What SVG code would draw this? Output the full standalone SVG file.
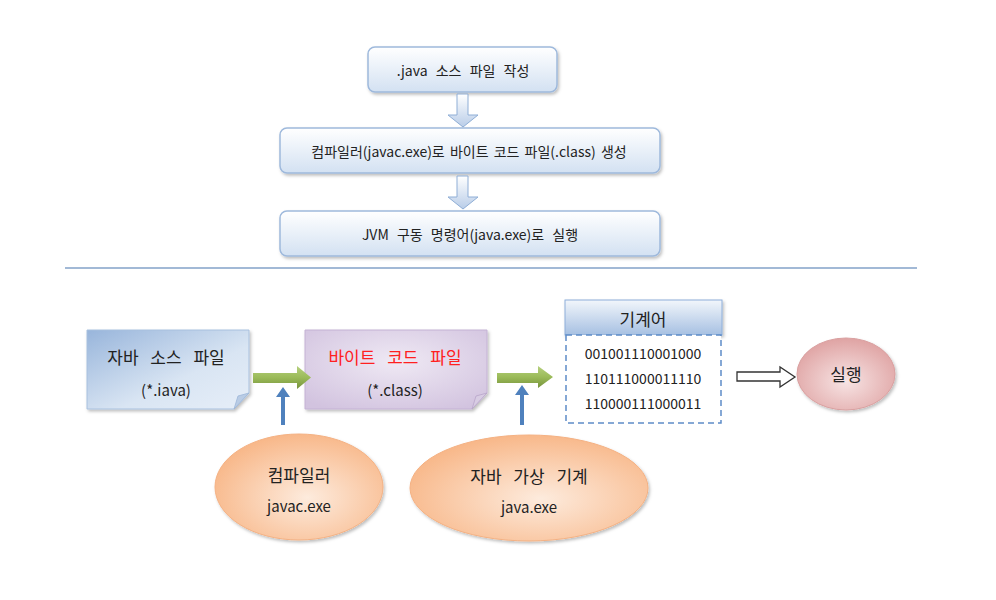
<svg xmlns="http://www.w3.org/2000/svg" width="996" height="600" viewBox="0 0 996 600">
<defs>
<linearGradient id="gTop" x1="0" y1="0" x2="0" y2="1">
<stop offset="0" stop-color="#FFFFFF"/><stop offset="1" stop-color="#D3E1F2"/>
</linearGradient>
<linearGradient id="gDown" x1="0" y1="0" x2="0" y2="1">
<stop offset="0" stop-color="#FFFFFF"/><stop offset="1" stop-color="#B9CDE8"/>
</linearGradient>
<linearGradient id="gBlue" x1="0" y1="0" x2="1" y2="1">
<stop offset="0" stop-color="#98B5DB"/><stop offset="0.6" stop-color="#D9E5F3"/><stop offset="1" stop-color="#E6EEF8"/>
</linearGradient>
<radialGradient id="gPurple" cx="0.5" cy="0.4" r="0.7">
<stop offset="0" stop-color="#EFE9F4"/><stop offset="1" stop-color="#D2C3DF"/>
</radialGradient>
<linearGradient id="gHead" x1="0" y1="0" x2="0" y2="1">
<stop offset="0" stop-color="#F2F6FB"/><stop offset="1" stop-color="#A6C0E2"/>
</linearGradient>
<linearGradient id="gGreen" x1="0" y1="0" x2="0" y2="1">
<stop offset="0" stop-color="#B6D07E"/><stop offset="0.5" stop-color="#9BBB59"/><stop offset="1" stop-color="#76923C"/>
</linearGradient>
<radialGradient id="gOrange" cx="0.55" cy="0.6" r="0.6">
<stop offset="0" stop-color="#FDEBDD"/><stop offset="1" stop-color="#F8B88A"/>
</radialGradient>
<radialGradient id="gPink" cx="0.5" cy="0.6" r="0.6">
<stop offset="0" stop-color="#F7E4E4"/><stop offset="1" stop-color="#DFA3A3"/>
</radialGradient>
<filter id="sh" x="-10%" y="-10%" width="125%" height="130%">
<feDropShadow dx="1.5" dy="2" stdDeviation="1.5" flood-color="#000" flood-opacity="0.25"/>
</filter>
</defs>
<style>
text{font-family:"Noto Sans CJK KR","Liberation Sans",sans-serif;fill:#222;text-anchor:middle;dominant-baseline:central}
.tb{fill:url(#gTop);stroke:#9EB9DC;stroke-width:1.5}
.t14{font-size:14px}
.t17{font-size:17px;word-spacing:8px}
.t15{font-size:15px}
.w6{word-spacing:5px}
.w3{word-spacing:2px}
.dn{fill:url(#gDown);stroke:#8FAED6;stroke-width:1}
.up{fill:#4F81BD}
.gr{fill:url(#gGreen)}
</style>
<rect width="996" height="600" fill="#FFFFFF"/>

<g id="step1">
<rect class="tb" x="368" y="47" width="189" height="45" rx="7" filter="url(#sh)"/>
<text class="t14 w6" x="463" y="70">.java 소스 파일 작성</text>
</g>
<g id="step2">
<rect class="tb" x="280" y="128" width="380" height="45" rx="7" filter="url(#sh)"/>
<text class="t14 w3" x="469" y="151">컴파일러(javac.exe)로 바이트 코드 파일(.class) 생성</text>
</g>
<g id="step3">
<rect class="tb" x="280" y="211" width="380" height="45" rx="7" filter="url(#sh)"/>
<text class="t14 w6" x="470" y="234">JVM 구동 명령어(java.exe)로 실행</text>
</g>

<line x1="65" y1="268" x2="917" y2="268" stroke="#A2B9D6" stroke-width="2"/>

<g id="src">
<path d="M87 330 H249 V393 L234 409 H87 Z" fill="url(#gBlue)" stroke="#A8C0DE" stroke-width="1" filter="url(#sh)"/>
<path d="M234 409 L238 396 L249 393 Z" fill="#B9CCE5" stroke="#9DB6D8" stroke-width="0.8"/>
<text class="t17" x="166" y="356">자바 소스 파일</text>
<text class="t15" x="166" y="389">(*.iava)</text>
</g>

<g id="bytecode">
<path d="M305 330 H487 V393 L472 409 H305 Z" fill="url(#gPurple)" stroke="#C4B2D4" stroke-width="1" filter="url(#sh)"/>
<path d="M472 409 L476 396 L487 393 Z" fill="#D8CCE3" stroke="#B7A4C9" stroke-width="0.8"/>
<text class="t17" x="395" y="356" style="fill:#FF2020">바이트 코드 파일</text>
<text class="t15" x="395" y="389">(*.class)</text>
</g>

<g id="machine">
<rect x="565" y="300" width="157" height="35" fill="url(#gHead)" stroke="#8EAEDA" stroke-width="1" filter="url(#sh)"/>
<text class="t17" x="643" y="318">기계어</text>
<rect x="566" y="335" width="155" height="88" fill="#FFFFFF" stroke="#5D8CC8" stroke-width="1.5" stroke-dasharray="6,4"/>
<text class="t14" x="643" y="353">001001110001000</text>
<text class="t14" x="643" y="378">110111000011110</text>
<text class="t14" x="643" y="403">110000111000011</text>
</g>

<g id="run">
<ellipse cx="846" cy="374" rx="49" ry="36" fill="url(#gPink)" stroke="#D9A0A0" stroke-width="1" filter="url(#sh)"/>
<text class="t17" x="846" y="373">실행</text>
</g>

<g id="compiler">
<ellipse cx="299" cy="487" rx="84" ry="53" fill="url(#gOrange)" stroke="#F4B183" stroke-width="1" filter="url(#sh)"/>
<text class="t17" x="299" y="474">컴파일러</text>
<text class="t15" x="299" y="505">javac.exe</text>
</g>

<g id="jvm">
<ellipse cx="529" cy="488" rx="119" ry="53" fill="url(#gOrange)" stroke="#F4B183" stroke-width="1" filter="url(#sh)"/>
<text class="t17" x="529" y="475">자바 가상 기계</text>
<text class="t15" x="529" y="506">java.exe</text>
</g>

<g id="connectors">
<path class="dn" d="M457 94 H468 V115 H478 L463 127 L448 115 H457 Z"/>
<path class="dn" d="M457 176 H468 V197 H478 L463 209 L448 197 H457 Z"/>
<path class="gr" d="M253 373 H297 V366 L311 377.5 L297 389 V383 H253 Z"/>
<path class="gr" d="M497 373 H538 V366 L553 377 L538 388 V383 H497 Z"/>
<path class="up" d="M281 425 V397 H276 L283 387 L290 397 H285 V425 Z"/>
<path class="up" d="M520 425 V395 H515 L522 385 L529 395 H524 V425 Z"/>
<path d="M737 372 H780 V367 L795 377 L780 387 V381 H737 Z" fill="#FFFFFF" stroke="#333" stroke-width="1.3"/>
</g>
</svg>
